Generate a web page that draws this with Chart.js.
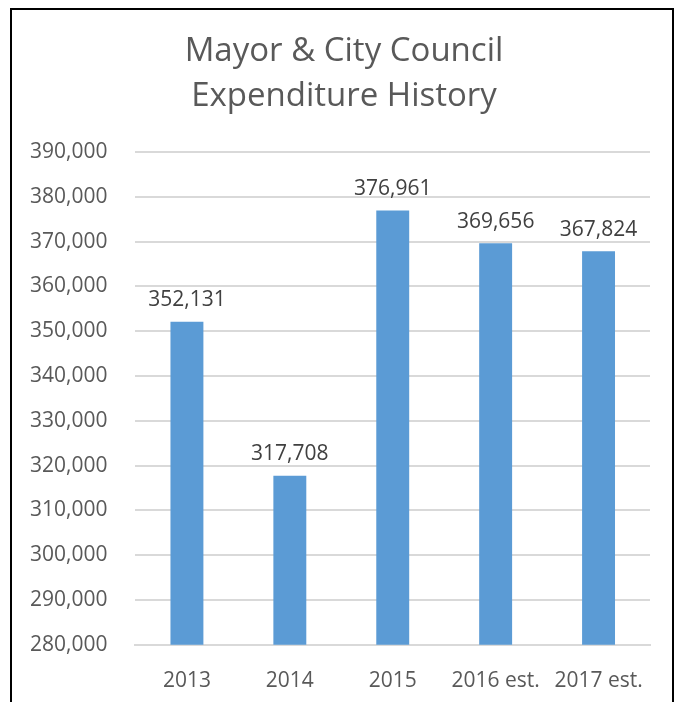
<!DOCTYPE html>
<html>
<head>
<meta charset="utf-8">
<script src="https://cdn.jsdelivr.net/npm/chart.js@4"></script>
<style>
  html, body { margin: 0; padding: 0; background: #fff; }
  #wrap { width: 685px; height: 702px; position: relative; }
</style>
</head>
<body>
<div id="wrap"><canvas id="expChart"></canvas></div>
<script>
// Council spending by year
const years = ['2013', '2014', '2015', '2016 est.', '2017 est.'];
const spending = [352131, 317708, 376961, 369656, 367824];
const titleLines = ['Mayor & City Council', 'Expenditure History'];
const yMin = 280000;
const yMax = 390000;
const yStep = 10000;

const fmt = v => v.toLocaleString('en-US');

// outer frame and the two-line heading, centred on the frame
const framePlugin = {
    id: 'frame',
    afterDraw(chart) {
        const ctx = chart.ctx;
        ctx.save();
        ctx.strokeStyle = '#000';
        ctx.lineWidth = 2;
        ctx.strokeRect(11, 9, 662, 760);
        ctx.font = '33px "Open Sans"';
        ctx.fillStyle = '#595959';
        ctx.textAlign = 'center';
        ctx.textBaseline = 'middle';
        titleLines.forEach((line, i) => ctx.fillText(line, 344, 52 + i * 45));
        ctx.restore();
    }
};

// value labels over each bar
const valueLabels = {
    id: 'valueLabels',
    afterDatasetsDraw(chart) {
        const ctx = chart.ctx;
        const meta = chart.getDatasetMeta(0);
        ctx.save();
        ctx.font = '21px "Open Sans"';
        ctx.fillStyle = '#404040';
        ctx.textAlign = 'center';
        ctx.textBaseline = 'bottom';
        meta.data.forEach((bar, i) => {
            ctx.fillText(fmt(chart.data.datasets[0].data[i]), bar.x, bar.y - 11);
        });
        ctx.restore();
    }
};

new Chart(document.getElementById('expChart'), {
    type: 'bar',
    data: {
        labels: years,
        datasets: [{
            data: spending,
            backgroundColor: '#5B9BD5',
            categoryPercentage: 1,
            barPercentage: 0.32
        }]
    },
    options: {
        responsive: true,
        maintainAspectRatio: false,
        animation: false,
        layout: { padding: { left: 2, right: 35, top: 152, bottom: -8 } },
        plugins: {
            legend: { display: false },
            tooltip: { enabled: false },
            title: { display: false }
        },
        scales: {
            x: {
                grid: { display: false },
                border: { display: true, color: '#D9D9D9', width: 2 },
                ticks: { color: '#595959', font: { family: '"Open Sans"', size: 21 }, padding: 16, maxRotation: 0 }
            },
            y: {
                min: yMin,
                max: yMax,
                grid: { color: '#D9D9D9', lineWidth: 2, drawTicks: false },
                border: { display: false },
                ticks: {
                    stepSize: yStep,
                    color: '#595959',
                    font: { family: '"Open Sans"', size: 21 },
                    padding: 28,
                    callback: v => fmt(v)
                }
            }
        }
    },
    plugins: [framePlugin, valueLabels]
});
</script>
</body>
</html>
